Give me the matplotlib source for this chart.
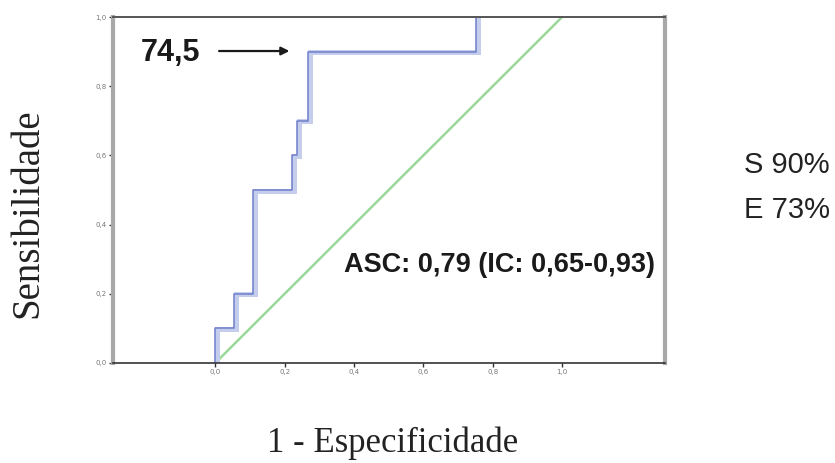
import numpy as np
import matplotlib
matplotlib.use('Agg')
import matplotlib.pyplot as plt
from matplotlib.transforms import offset_copy

# ROC curve (1 - especificidade, sensibilidade);
# the last run along the top edge is hidden by the frame, as in the original
fpr = [0.0, 0.0, 0.055, 0.055, 0.11, 0.11, 0.22, 0.22, 0.235, 0.235, 0.268, 0.268, 0.752, 0.752]
tpr = [0.0, 0.1, 0.1, 0.2, 0.2, 0.5, 0.5, 0.6, 0.6, 0.7, 0.7, 0.9, 0.9, 1.0]
ref_line = [0.0, 1.0]
ticks = [0.0, 0.2, 0.4, 0.6, 0.8, 1.0]
tick_labels = ['0,0', '0,2', '0,4', '0,6', '0,8', '1,0']

SANS = 'Liberation Sans'
SERIF = 'Liberation Serif'

fig = plt.figure(figsize=(8.35, 4.63), dpi=100)
ax = fig.add_axes([0.1353, 0.216, 0.6611, 0.747])

ax.plot(ref_line, ref_line, color='#9ad89a', lw=1.8, zorder=2)
shadow = offset_copy(ax.transData, fig=fig, x=2.0, y=-0.6, units='dots')
ax.plot(fpr, tpr, color='#c5cdec', lw=3.6, transform=shadow, zorder=3,
        solid_joinstyle='miter')
ax.plot(fpr, tpr, color='#6f7fcc', lw=1.1, zorder=4)

ax.set_xlim(-0.295, 1.297)
ax.set_ylim(0, 1)
ax.set_xticks(ticks)
ax.set_xticklabels(tick_labels)
ax.set_yticks(ticks)
ax.set_yticklabels(tick_labels)
ax.tick_params(length=3, width=1, color='#333333', labelsize=5,
               labelcolor='#777777', pad=1.5)

for side in ['left', 'right']:
    ax.spines[side].set_color('#a8a8a8')
    ax.spines[side].set_linewidth(3)
ax.spines['top'].set_color('#555555')
ax.spines['top'].set_linewidth(1.4)
ax.spines['bottom'].set_color('#333333')
ax.spines['bottom'].set_linewidth(1.2)
for sp in ax.spines.values():
    sp.set_zorder(6)

ax.text(-0.13, 0.896, '74,5', ha='center', va='center', fontsize=22,
        fontweight='bold', family=SANS, color='#1a1a1a')
ax.annotate('', xy=(0.222, 0.902), xytext=(0.003, 0.902),
            arrowprops=dict(arrowstyle='-|>', color='#1a1a1a', lw=1.6,
                            mutation_scale=12))
ax.text(0.82, 0.283, 'ASC: 0,79 (IC: 0,65-0,93)', ha='center', va='center',
        fontsize=19.5, fontweight='bold', family=SANS, color='#1a1a1a')

fig.text(0.994, 0.644, 'S 90%', ha='right', va='center', fontsize=21,
         family=SANS, color='#222222')
fig.text(0.994, 0.546, 'E 73%', ha='right', va='center', fontsize=21,
         family=SANS, color='#222222')

fig.text(0.47, 0.043, '1 - Especificidade', ha='center', va='center',
         fontsize=25, family=SERIF, color='#222222')
fig.text(0.033, 0.54, 'Sensibilidade', ha='center', va='center',
         rotation=90, fontsize=28, family=SERIF, color='#222222')

fig.savefig('out.png', dpi=100, facecolor='white')
